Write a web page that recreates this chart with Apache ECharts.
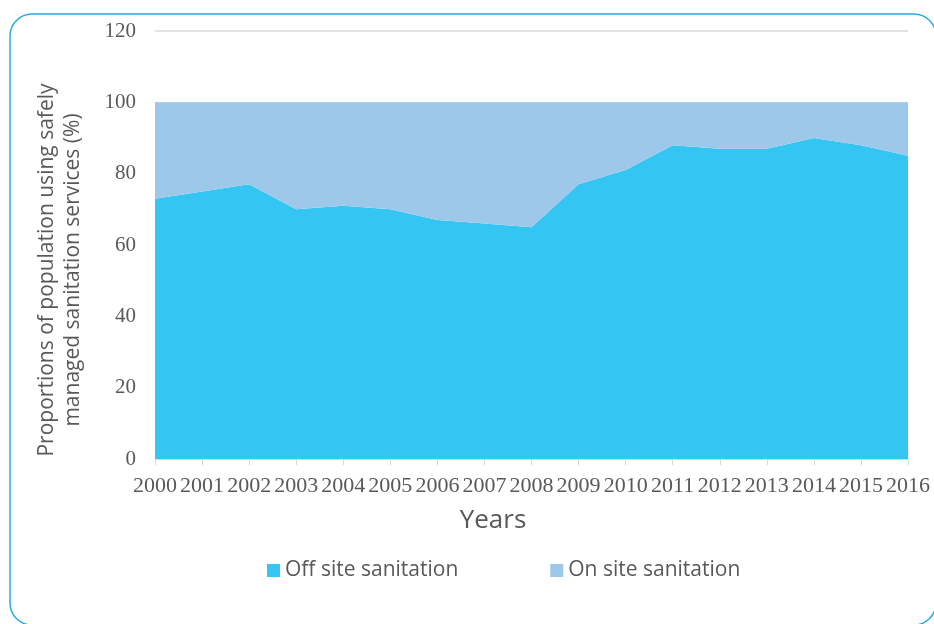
<!DOCTYPE html>
<html>
<head>
<meta charset="utf-8">
<script src="https://cdn.jsdelivr.net/npm/echarts@6/dist/echarts.min.js"></script>
<style>html,body{margin:0;padding:0;background:#fff;}#c{width:934px;height:624px;}</style>
</head>
<body>
<div id="c"></div>
<script>
const years = ['2000','2001','2002','2003','2004','2005','2006','2007','2008','2009','2010','2011','2012','2013','2014','2015','2016'];
const offSite = [73, 75, 77, 70, 71, 70, 67, 66, 65, 77, 81, 88, 87, 87, 90, 88, 85];
const onSite = [27, 25, 23, 30, 29, 30, 33, 34, 35, 23, 19, 12, 13, 13, 10, 12, 15];
const yTicks = [0, 20, 40, 60, 80, 100, 120];
const yAxisTitle = 'Proportions of population using safely\nmanaged sanitation services (%)';
const xAxisTitle = 'Years';

const chart = echarts.init(document.getElementById('c'), null, {renderer: 'canvas'});
chart.setOption({
  animation: false,
  graphic: [
    {type: 'rect', shape: {x: 10, y: 14, width: 926, height: 611, r: 22},
     style: {fill: 'none', stroke: '#29ABE2', lineWidth: 1.5}, silent: true, z: -10},
    {type: 'text', x: 60, y: 270, rotation: Math.PI / 2,
     style: {text: yAxisTitle, font: '21px "Open Sans"', fill: '#595959', align: 'center', verticalAlign: 'middle', lineHeight: 26}},
    {type: 'text', x: 493, y: 521,
     style: {text: xAxisTitle, font: '26px "Open Sans"', fill: '#595959', align: 'center', verticalAlign: 'middle'}}
  ],
  grid: {left: 155, right: 26, top: 31, bottom: 165},
  legend: {
    left: 262, top: 555, itemWidth: 13, itemHeight: 13, itemGap: 92,
    icon: 'rect',
    textStyle: {fontFamily: 'Open Sans', fontSize: 21, color: '#595959'},
    data: ['Off site sanitation', 'On site sanitation']
  },
  xAxis: {
    type: 'category', data: years, boundaryGap: false,
    axisLine: {lineStyle: {color: '#d9d9d9', width: 1}},
    axisTick: {show: true, length: 6, lineStyle: {color: '#d9d9d9'}},
    axisLabel: {fontFamily: 'Liberation Serif', fontSize: 22, color: '#595959', margin: 16, interval: 0}
  },
  yAxis: {
    type: 'value', min: yTicks[0], max: yTicks[yTicks.length - 1], interval: 20,
    axisLine: {show: false}, axisTick: {show: false},
    axisLabel: {fontFamily: 'Liberation Serif', fontSize: 21, color: '#595959', margin: 19},
    splitLine: {lineStyle: {color: '#d9d9d9', width: 1.5}}
  },
  series: [
    {name: 'Off site sanitation', type: 'line', stack: 'total', data: offSite,
     symbol: 'none', lineStyle: {width: 0}, areaStyle: {color: '#35C5F2', opacity: 1},
     itemStyle: {color: '#35C5F2'}, z: 3},
    {name: 'On site sanitation', type: 'line', stack: 'total', data: onSite,
     symbol: 'none', lineStyle: {width: 0}, areaStyle: {color: '#9DC8EA', opacity: 1},
     itemStyle: {color: '#9DC8EA'}, z: 3}
  ]
});
</script>
</body>
</html>
